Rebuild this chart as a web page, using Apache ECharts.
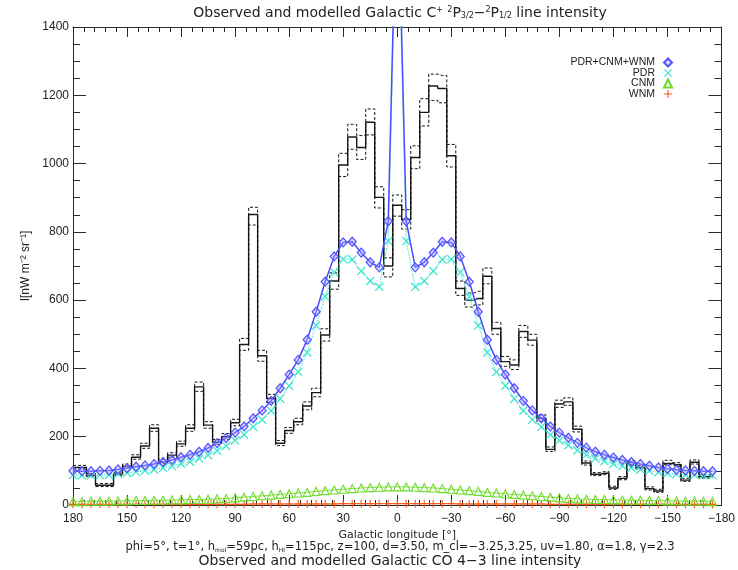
<!DOCTYPE html>
<html>
<head>
<meta charset="utf-8">
<script src="https://cdn.jsdelivr.net/npm/echarts@6/dist/echarts.min.js"></script>
<style>
  html, body { margin: 0; padding: 0; background: #ffffff; }
  #chart { width: 738px; height: 570px; }
</style>
</head>
<body>
<div id="chart"></div>
<script>
// Galactic longitude of each 5-degree bin centre (left to right: 180 ... -175)
const longitude = [
  180, 175, 170, 165, 160, 155, 150, 145, 140, 135, 130, 125,
  120, 115, 110, 105, 100, 95, 90, 85, 80, 75, 70, 65,
  60, 55, 50, 45, 40, 35, 30, 25, 20, 15, 10, 5,
  0, -5, -10, -15, -20, -25, -30, -35, -40, -45, -50, -55,
  -60, -65, -70, -75, -80, -85, -90, -95, -100, -105, -110, -115,
  -120, -125, -130, -135, -140, -145, -150, -155, -160, -165, -170, -175
];

// Observed [CII] intensity per bin, nW m^-2 sr^-1
const observed = [
  110, 110, 87, 58, 58, 91, 114, 140, 173, 225, 127, 146,
  179, 225, 346, 234, 184, 200, 241, 470, 851, 437, 312, 181,
  218, 244, 290, 329, 498, 656, 996, 1078, 1047, 1121, 901, 700,
  878, 836, 1018, 1150, 1227, 1220, 1023, 634, 600, 605, 670, 517,
  420, 410, 508, 483, 254, 163, 296, 302, 222, 123, 90, 93,
  50, 78, 124, 110, 48, 41, 122, 118, 73, 125, 83, 83
];

// Upper and lower uncertainty envelope of the observation
const observedHigh = [
  116, 116, 92, 63, 63, 96, 120, 147, 181, 235, 134, 153,
  187, 235, 360, 244, 192, 209, 251, 488, 872, 453, 324, 189,
  227, 254, 302, 342, 516, 680, 1030, 1115, 1082, 1160, 932, 724,
  908, 865, 1052, 1190, 1262, 1258, 1056, 656, 621, 626, 694, 535,
  435, 425, 526, 500, 264, 170, 307, 314, 231, 129, 95, 98,
  55, 83, 130, 116, 53, 46, 131, 124, 78, 132, 88, 88
];
const observedLow = [
  105, 105, 83, 54, 54, 87, 109, 134, 166, 216, 121, 140,
  172, 216, 333, 225, 177, 192, 232, 453, 820, 421, 300, 174,
  210, 235, 279, 317, 480, 632, 962, 1042, 1012, 1084, 870, 668,
  846, 808, 985, 1110, 1185, 1178, 990, 614, 580, 586, 648, 500,
  406, 397, 491, 468, 245, 157, 286, 292, 214, 117, 86, 89,
  46, 74, 118, 105, 44, 37, 118, 113, 69, 120, 79, 79
];

// Model components
const modelTotal = [
  100, 99, 99, 100, 101, 104, 108, 112, 116, 120, 126, 132,
  140, 147, 156, 167, 181, 196, 212, 230, 254, 277, 305, 342,
  382, 425, 484, 566, 654, 728, 769, 771, 739, 711, 696, 831,
  1900, 831, 696, 711, 739, 771, 769, 728, 654, 566, 484, 425,
  382, 342, 305, 277, 254, 230, 212, 197, 182, 168, 156, 147,
  139, 132, 126, 120, 115, 110, 106, 103, 101, 100, 99, 99
];
const modelPDR = [
  88, 87, 87, 88, 88, 91, 94, 97, 101, 104, 109, 114,
  121, 127, 136, 146, 159, 173, 189, 206, 229, 250, 276, 311,
  349, 390, 447, 526, 611, 682, 720, 719, 685, 656, 639, 773,
  1840, 773, 639, 656, 685, 719, 720, 682, 611, 526, 447, 390,
  349, 311, 276, 250, 229, 206, 189, 175, 160, 147, 136, 128,
  120, 114, 109, 104, 100, 96, 93, 91, 89, 88, 87, 87
];
const modelCNM = [
  10, 10, 11, 11, 11, 12, 12, 13, 13, 14, 14, 15,
  15, 16, 16, 17, 18, 19, 21, 23, 25, 27, 29, 31,
  33, 35, 37, 40, 42, 44, 46, 48, 50, 51, 52, 53,
  53, 53, 52, 51, 50, 48, 46, 44, 42, 40, 37, 35,
  33, 31, 29, 27, 25, 23, 21, 19, 18, 17, 16, 16,
  15, 15, 14, 14, 13, 13, 12, 12, 11, 11, 11, 10
];
const modelWNM = [
  2, 2, 2, 2, 2, 2, 2, 2, 2, 2, 2, 2,
  2, 2, 2, 2, 2, 2, 2, 2, 3, 3, 3, 3,
  3, 3, 3, 3, 3, 3, 4, 4, 4, 4, 4, 4,
  4, 4, 4, 4, 4, 4, 4, 3, 3, 3, 3, 3,
  3, 3, 3, 3, 3, 2, 2, 2, 2, 2, 2, 2,
  2, 2, 2, 2, 2, 2, 2, 2, 2, 2, 2, 2
];

// Axis ranges
const lonRange = [-180, 180];
const lonStep = 30;
const intensityRange = [0, 1400];
const intensityStep = 200;

const FONT = 'Liberation Sans';
const WIDE = 'DejaVu Sans';
const CROSS = 'path://M0,1L1,0L5,4L9,0L10,1L6,5L10,9L9,10L5,6L1,10L0,9L4,5Z';
const PLUS = 'path://M4.3,0H5.7V4.3H10V5.7H5.7V10H4.3V5.7H0V4.3H4.3Z';

const pairs = vals => longitude.map((l, i) => [l, vals[i]]);
const lonLabel = v => (v < 0 ? '\u2212' + Math.abs(v) : String(v));

const axisColor = '#2a2a2a';
const xAxisBase = {
  type: 'value', min: lonRange[0], max: lonRange[1], interval: lonStep, inverse: true,
  axisLine: { show: true, onZero: false, lineStyle: { color: axisColor, width: 1 } },
  axisTick: { show: true, inside: true, length: 10, lineStyle: { color: axisColor } },
  minorTick: { show: true, splitNumber: 5, length: 5, lineStyle: { color: axisColor } },
  splitLine: { show: false }
};
const yAxisBase = {
  type: 'value', min: intensityRange[0], max: intensityRange[1], interval: intensityStep,
  axisLine: { show: true, onZero: false, lineStyle: { color: axisColor, width: 1 } },
  axisTick: { show: true, inside: true, length: 13, lineStyle: { color: axisColor } },
  minorTick: { show: true, splitNumber: 4, length: 7, lineStyle: { color: axisColor } },
  splitLine: { show: false }
};

const chart = echarts.init(document.getElementById('chart'), null, { renderer: 'canvas' });
chart.setOption({
  animation: false,
  backgroundColor: '#ffffff',
  grid: { left: 73, right: 12, top: 27, bottom: 65, containLabel: false },
  xAxis: [
    Object.assign({}, xAxisBase, {
      position: 'bottom',
      name: 'Galactic longitude [\u00b0]', nameLocation: 'middle', nameGap: 22,
      nameTextStyle: { fontFamily: WIDE, fontSize: 11, color: '#222' },
      axisLabel: { show: true, margin: 8, fontFamily: FONT, fontSize: 12, color: '#222', formatter: lonLabel }
    }),
    Object.assign({}, xAxisBase, { position: 'top', axisLabel: { show: false } })
  ],
  yAxis: [
    Object.assign({}, yAxisBase, {
      position: 'left',
      name: 'I[nW m\u207b\u00b2 sr\u207b\u00b9]', nameLocation: 'middle', nameRotate: 90, nameGap: 35,
      nameTextStyle: { fontFamily: FONT, fontSize: 12, color: '#222' },
      axisLabel: { show: true, margin: 4, fontFamily: FONT, fontSize: 12, color: '#222', formatter: v => String(v) }
    }),
    Object.assign({}, yAxisBase, { position: 'right', axisLabel: { show: false } })
  ],
  legend: {
    orient: 'vertical', right: 60, top: 52, align: 'right',
    itemWidth: 8, itemHeight: 8, itemGap: -0.5, selectedMode: false,
    textStyle: { fontFamily: FONT, fontSize: 10.5, lineHeight: 10, color: '#222', padding: [0, 4, 0, 0] },
    data: [
      { name: 'PDR+CNM+WNM', icon: 'diamond' },
      { name: 'PDR', icon: CROSS },
      { name: 'CNM', icon: 'triangle' },
      { name: 'WNM', icon: PLUS }
    ]
  },
  graphic: [
    {
      type: 'text', x: 400, y: 6,
      style: {
        text: 'Observed and modelled Galactic C{sup|+} {sup|2}P{sub|3/2}\u2212{sup|2}P{sub|1/2} line intensity',
        font: '14px ' + WIDE, fill: '#222', align: 'center', verticalAlign: 'top',
        rich: {
          sup: { fontSize: 8, fontFamily: WIDE, verticalAlign: 'top', fill: '#222' },
          sub: { fontSize: 8, fontFamily: WIDE, verticalAlign: 'bottom', fill: '#222' }
        }
      }
    },
    {
      type: 'text', x: 400, y: 541,
      style: {
        text: 'phi=5\u00b0, t=1\u00b0, h{sub|mol}=59pc, h{sub|HI}=115pc, z=100, d=3.50, m_cl=\u22123.25,3.25, uv=1.80, \u03b1=1.8, \u03b3=2.3',
        font: '11.5px ' + WIDE, fill: '#222', align: 'center', verticalAlign: 'top',
        rich: { sub: { fontSize: 6, fontFamily: WIDE, verticalAlign: 'bottom', fill: '#222' } }
      }
    },
    {
      type: 'text', x: 390, y: 554,
      style: { text: 'Observed and modelled Galactic CO 4\u22123 line intensity', font: '14px ' + WIDE, fill: '#222', align: 'center', verticalAlign: 'top' }
    }
  ],
  series: [
    {
      name: 'observed', type: 'line', step: 'middle', data: pairs(observed), symbol: 'none',
      lineStyle: { color: '#1a1a1a', width: 1.4 }, z: 2, silent: true
    },
    {
      name: 'observed high', type: 'line', step: 'middle', data: pairs(observedHigh), symbol: 'none',
      lineStyle: { color: '#111', width: 1, type: [3, 2] }, z: 2, silent: true
    },
    {
      name: 'observed low', type: 'line', step: 'middle', data: pairs(observedLow), symbol: 'none',
      lineStyle: { color: '#111', width: 1, type: [3, 2] }, z: 2, silent: true
    },
    {
      name: 'WNM', type: 'line', data: pairs(modelWNM), symbol: PLUS, symbolSize: 8, showAllSymbol: true,
      lineStyle: { color: '#ff5a1a', width: 1 }, itemStyle: { color: '#ff5a1a' }, z: 3
    },
    {
      name: 'CNM', type: 'line', data: pairs(modelCNM), symbol: 'triangle', symbolSize: 8, showAllSymbol: true,
      lineStyle: { color: '#7ee03a', width: 1 },
      itemStyle: { color: 'rgba(255,255,255,0)', borderColor: '#6fdc2a', borderWidth: 1.1 }, z: 4
    },
    {
      name: 'PDR', type: 'line', data: pairs(modelPDR), symbol: CROSS, symbolSize: 9, showAllSymbol: true,
      lineStyle: { color: '#3ee6cf', width: 1.2, type: 'dotted' }, itemStyle: { color: '#3ee6cf' }, z: 5
    },
    {
      name: 'PDR+CNM+WNM', type: 'line', data: pairs(modelTotal), symbol: 'diamond', symbolSize: [8, 9], showAllSymbol: true,
      lineStyle: { color: '#4b4bff', width: 1.5 },
      itemStyle: { color: 'rgba(160,160,255,0.4)', borderColor: '#5252ff', borderWidth: 1.2 }, z: 6
    }
  ]
});
</script>
</body>
</html>
